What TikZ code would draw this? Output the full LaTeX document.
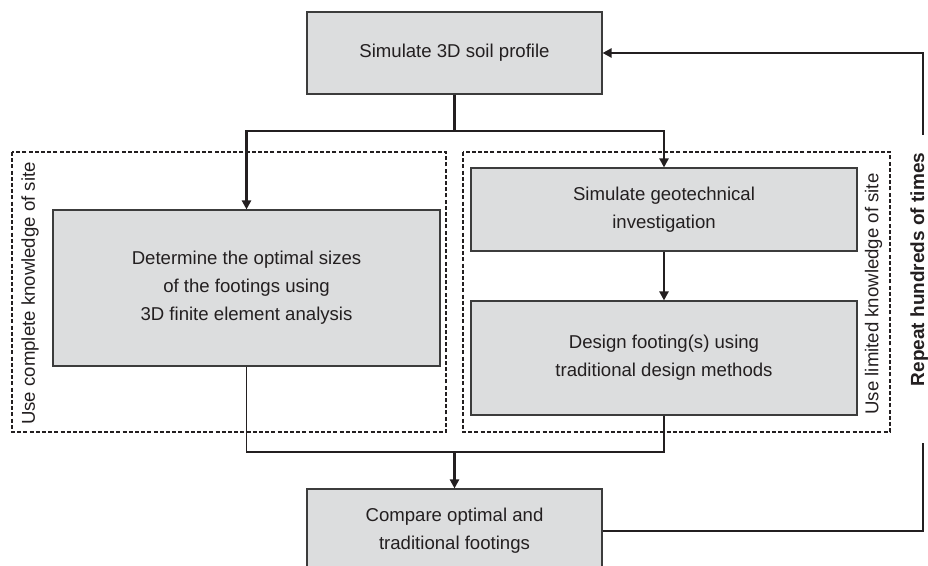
\documentclass[tikz,border=0pt]{standalone}
\usepackage{fontspec}
\setmainfont{Liberation Sans}
\usetikzlibrary{arrows.meta}
\definecolor{boxfill}{HTML}{DCDDDE}
\definecolor{ink}{HTML}{231F20}
\definecolor{edgegray}{HTML}{3C3C3C}
\newcommand{\mainfs}{\fontsize{18.6}{28}\selectfont}
\begin{document}
\begin{tikzpicture}[x=1pt,y=1pt,
  proc/.style={draw=edgegray, line width=1.1pt, fill=boxfill, inner sep=0pt, align=center, text=ink, font=\mainfs},
  conn/.style={draw=ink, line width=2.8pt},
  thinconn/.style={draw=ink, line width=1.5pt},
  arr/.style={conn, -{Triangle[length=9pt,width=9pt]}},
  grp/.style={draw=ink, line width=1.4pt, dash pattern=on 4pt off 2.2pt},
  lbl/.style={rotate=90, text=ink, font=\mainfs, inner sep=0pt}]
\useasboundingbox (0,0) rectangle (928,565);
\clip (0,0) rectangle (928,565);
% groups
\draw[grp] (12,413) rectangle (446,133);
\draw[grp] (463,413) rectangle (890,133);
% boxes
\node[proc, minimum width=295pt, minimum height=82pt] (top) at (454.5,512) {Simulate 3D soil profile};
\node[proc, minimum width=387pt, minimum height=156pt] (det) at (246.5,277) {Determine the optimal sizes\\of the footings using\\3D finite element analysis};
\node[proc, minimum width=386pt, minimum height=83pt] (geo) at (664,355.5) {Simulate geotechnical\\investigation};
\node[proc, minimum width=386pt, minimum height=114pt] (des) at (664,207) {Design footing(s) using\\traditional design methods};
\node[proc, minimum width=295pt, minimum height=84pt] (cmp) at (454.5,34) {Compare optimal and\\traditional footings};
% labels
\node[lbl] (lblL) at (30,271.5) {Use complete knowledge of site};
\node[lbl] (lblR) at (873.5,271) {Use limited knowledge of site};
\node[rotate=90, anchor=base, font=\bfseries\fontsize{19}{23}\selectfont, text=ink, inner sep=0pt] (rep) at (924,295.5) {Repeat hundreds of times};
% connectors
\coordinate (split) at (454.5,434);
\draw[conn] (top.south) -- (split);
\draw[arr] (split) -| (det.north);
\draw[arr] (split) -| (geo.north);
\draw[arr] (geo.south) -- (des.north);
\coordinate (join) at (454.5,113);
\draw[thinconn] (det.south) |- (join);
\draw[conn] (des.south) |- (join);
\draw[arr] (join) -- (cmp.north);
\coordinate (loopB) at (923,122);
\coordinate (loopT) at (923,430);
\draw[conn] (cmp.east) -| (loopB);
\draw[arr] (loopT) |- (top.east);
\end{tikzpicture}
\end{document}
